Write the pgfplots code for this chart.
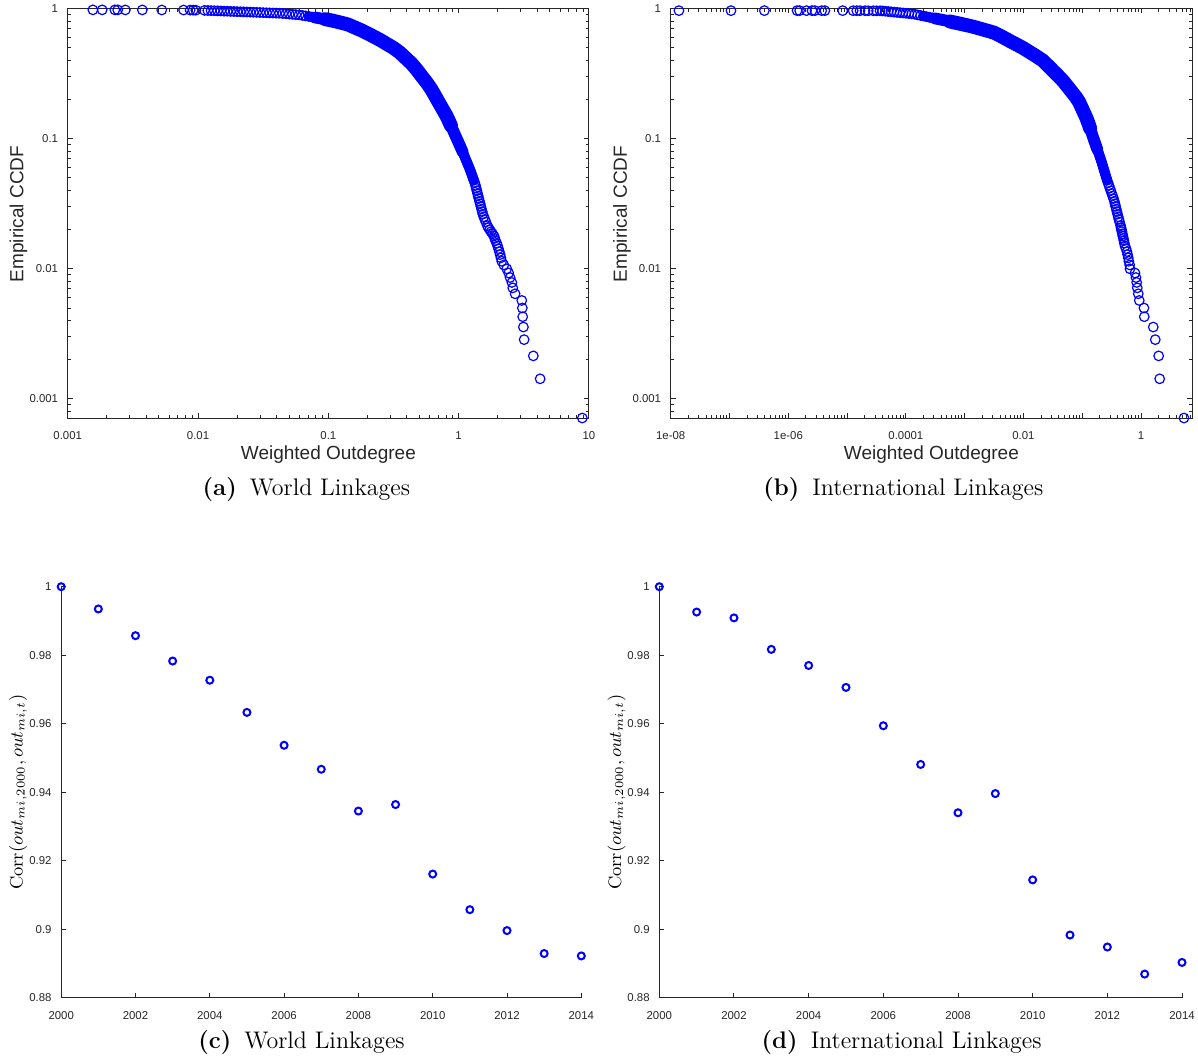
\documentclass[border=0pt]{standalone}
\usepackage{fontspec}
\setsansfont{Liberation Sans}
\usepackage{pgfplots}
\pgfplotsset{compat=1.18}

\definecolor{axgray}{rgb}{0.15,0.15,0.15}

\pgfplotsset{
  mat/.style={
    scale only axis, clip=false,
    axis line style={axgray, line width=0.5pt},
    tick style={axgray, line width=0.5pt},
    tick align=inside,
    major tick length=2.5pt, minor tick length=1.6pt,
    /pgf/number format/assume math mode=true,
    tick label style={font=\fontsize{5.7}{6.8}\selectfont\sffamily, text=axgray},
    xticklabel style={yshift=-3.4pt},
    yticklabel style={xshift=-1.3pt},
  },
  ccdf/.style={mat,
    width=260.65pt, height=204.75pt,
    ymin=7.143e-4, ymax=1,
    xtick pos=both, ytick pos=both,
    ytick={0.001,0.01,0.1,1}, yticklabels={0.001,0.01,0.1,1},
    minor ytick={0.0008,0.0009,0.002,0.003,0.004,0.005,0.006,0.007,0.008,0.009,
      0.02,0.03,0.04,0.05,0.06,0.07,0.08,0.09,0.2,0.3,0.4,0.5,0.6,0.7,0.8,0.9},
  },
  corr/.style={mat, axis lines*=left, xtick pos=left, ytick pos=left,
    height=205.5pt,
    xmin=2000, xmax=2014, ymin=0.88, ymax=1,
    xtick={2000,2002,2004,2006,2008,2010,2012,2014},
    xticklabels={2000,2002,2004,2006,2008,2010,2012,2014},
    ytick={0.88,0.9,0.92,0.94,0.96,0.98,1},
    yticklabels={0.88,0.9,0.92,0.94,0.96,0.98,1},
  },
  band/.style={draw=blue, line width=7pt, line cap=round, line join=round, mark=none},
  midband/.style={draw=blue, line width=5.9pt, line cap=round, line join=round, mark=none},
  thinband/.style={draw=blue, line width=4.8pt, line cap=round, line join=round, mark=none},
  dots/.style={only marks, mark=o, mark size=2.4pt, blue, mark options={line width=0.6pt}},
  cdots/.style={only marks, mark=o, mark size=1.75pt, blue, mark options={line width=1pt}},
}

\begin{document}
\begin{tikzpicture}
\useasboundingbox (0,0) rectangle (599pt,528pt);

% (a) world linkages, CCDF
\begin{loglogaxis}[ccdf, at={(33.85pt,319pt)}, anchor=south west,
  xmin=0.001, xmax=10,
  xtick={0.001,0.01,0.1,1,10}, xticklabels={0.001,0.01,0.1,1,10},
  minor xtick={0.002,0.003,0.004,0.005,0.006,0.007,0.008,0.009,
    0.02,0.03,0.04,0.05,0.06,0.07,0.08,0.09,0.2,0.3,0.4,0.5,0.6,0.7,0.8,0.9,
    2,3,4,5,6,7,8,9}]
\addplot[thinband] coordinates {(0.07079,0.869) (0.07943,0.852)};
\addplot[midband] coordinates {(0.07943,0.852) (0.08913,0.836) (0.1,0.820)};
\addplot[band] coordinates {
(0.09441,0.828) (0.1,0.820) (0.1122,0.799) (0.1259,0.777) (0.1413,0.754)
(0.1585,0.717) (0.1778,0.682) (0.1995,0.645) (0.2239,0.607) (0.2512,0.571) (0.2818,0.533)
(0.3162,0.498) (0.3548,0.4571) (0.3915,0.4169) (0.4320,0.3802) (0.4681,0.3467) (0.5025,0.3162)
(0.5394,0.2884) (0.5790,0.2630) (0.6166,0.2399) (0.6497,0.2188) (0.6847,0.1995) (0.7214,0.1820)
(0.7603,0.1660) (0.8013,0.1514) (0.8379,0.1380) (0.8730,0.1259)
};
\addplot[midband] coordinates {
(0.8379,0.1380) (0.8730,0.1259) (0.9095,0.1148) (0.9475,0.1047) (0.9872,0.0955) (1.0285,0.0871)
(1.0715,0.0794)
};
\addplot[thinband] coordinates {
(1.0285,0.0871) (1.0715,0.0794) (1.1135,0.0724) (1.1564,0.0661) (1.2010,0.0603) (1.2444,0.0550)
(1.2859,0.0501) (1.3075,0.0479)
};
\addplot[dots] coordinates {
(0.00156,0.976) (0.00184,0.976) (0.00230,0.976) (0.00242,0.976) (0.00277,0.975) (0.00374,0.975)
(0.00527,0.974) (0.00775,0.973) (0.0087,0.972) (0.00918,0.971) (0.00962,0.970)
(0.01122,0.967) (0.01189,0.965) (0.01259,0.963) (0.01334,0.961) (0.01413,0.959) (0.01496,0.957)
(0.01585,0.954) (0.01679,0.953) (0.01778,0.950) (0.01884,0.948) (0.01995,0.946) (0.02113,0.944)
(0.02239,0.942) (0.02371,0.940) (0.02512,0.938) (0.02661,0.936) (0.02818,0.934) (0.02985,0.932)
(0.03162,0.929) (0.0335,0.927) (0.03548,0.925) (0.03758,0.923) (0.03981,0.921) (0.04217,0.919)
(0.04467,0.915) (0.04732,0.911) (0.05012,0.906) (0.05309,0.902) (0.05623,0.897) (0.05957,0.893)
(0.0631,0.885) (0.06683,0.877) (0.07079,0.869) (0.07499,0.860) (0.07943,0.852) (0.08414,0.844)
(0.08913,0.836) (0.09441,0.828) (0.1,0.820) (0.1059,0.811) (0.1122,0.799) (0.1189,0.789)
(0.1259,0.777) (0.1334,0.767) (0.1413,0.754) (0.1496,0.735) (0.1585,0.717) (0.1679,0.700)
(0.1778,0.682) (0.1884,0.665) (0.1995,0.645) (0.2113,0.626) (0.2239,0.607) (0.2371,0.589)
(0.2512,0.571) (0.2661,0.552) (0.2818,0.533) (0.2985,0.516) (0.3162,0.498) (0.3350,0.482)
(0.3548,0.4571) (0.3727,0.4365) (0.3915,0.4169) (0.4112,0.3981) (0.4320,0.3802) (0.4518,0.3631)
(0.4681,0.3467) (0.4850,0.3311) (0.5025,0.3162) (0.5206,0.3020) (0.5394,0.2884) (0.5588,0.2754)
(0.5790,0.2630) (0.5999,0.2512) (0.6166,0.2399) (0.6329,0.2291) (0.6497,0.2188) (0.6669,0.2089)
(0.6847,0.1995) (0.7029,0.1905) (0.7214,0.1820) (0.7406,0.1738) (0.7603,0.1660) (0.7805,0.1585)
(0.8013,0.1514) (0.8210,0.1445) (0.8379,0.1380) (0.8553,0.1318) (0.8730,0.1259) (0.8911,0.1202)
(0.9095,0.1148) (0.9284,0.1096) (0.9475,0.1047) (0.9672,0.1000) (0.9872,0.0955) (1.0076,0.0912)
(1.0285,0.0871) (1.0498,0.0832) (1.0715,0.0794) (1.0926,0.0759) (1.1135,0.0724) (1.1348,0.0692)
(1.1564,0.0661) (1.1785,0.0631) (1.2010,0.0603) (1.2239,0.0575) (1.2444,0.0550) (1.2647,0.0525)
(1.2859,0.0501) (1.3075,0.0479) (1.3290,0.0457) (1.3468,0.0437) (1.3628,0.0417) (1.3785,0.0398)
(1.3948,0.0380) (1.4110,0.0363) (1.4273,0.0347) (1.4445,0.0331) (1.4619,0.0316) (1.4795,0.0302)
(1.4973,0.0288) (1.5153,0.0275) (1.5336,0.0263) (1.5592,0.0251) (1.5878,0.0240) (1.6166,0.0229)
(1.66,0.02143) (1.69,0.02071) (1.73,0.02) (1.77,0.01929) (1.82,0.01857) (1.87,0.01786)
(1.89,0.01714) (1.92,0.01643) (1.96,0.01571) (1.99,0.015) (2.02,0.01429) (2.05,0.01357)
(2.08,0.01286) (2.11,0.01214) (2.14,0.01143) (2.22,0.01071) (2.34,0.01) (2.42,0.009286)
(2.48,0.008571) (2.56,0.007857) (2.60,0.007143) (2.71,0.006429) (3.05,0.005714) (3.08,0.005)
(3.10,0.004286) (3.14,0.003571) (3.18,0.002857) (3.74,0.002143) (4.22,0.001429) (8.89,0.000714)
};
\end{loglogaxis}

% (b) international linkages, CCDF
\begin{loglogaxis}[ccdf, at={(335.35pt,319pt)}, anchor=south west,
  xmin=1e-8, xmax=7.35,
  xtick={1e-8,1e-7,1e-6,1e-5,1e-4,1e-3,0.01,0.1,1},
  xticklabels={1e-08,,1e-06,,0.0001,,0.01,,1},
  minor xtick={2e-8,3e-8,4e-8,5e-8,6e-8,7e-8,8e-8,9e-8,
    2e-7,3e-7,4e-7,5e-7,6e-7,7e-7,8e-7,9e-7,
    2e-6,3e-6,4e-6,5e-6,6e-6,7e-6,8e-6,9e-6,
    2e-5,3e-5,4e-5,5e-5,6e-5,7e-5,8e-5,9e-5,
    2e-4,3e-4,4e-4,5e-4,6e-4,7e-4,8e-4,9e-4,
    0.002,0.003,0.004,0.005,0.006,0.007,0.008,0.009,
    0.02,0.03,0.04,0.05,0.06,0.07,0.08,0.09,
    0.2,0.3,0.4,0.5,0.6,0.7,0.8,0.9,2,3,4,5,6,7}]
\addplot[thinband] coordinates {(1.995e-4,0.875) (2.512e-4,0.856) (3.162e-4,0.838)};
\addplot[midband] coordinates {(3.162e-4,0.838) (3.981e-4,0.821) (5.012e-4,0.804) (6.310e-4,0.785)};
\addplot[band] coordinates {
(5.623e-4,0.795) (6.310e-4,0.785) (7.943e-4,0.768) (1e-3,0.750)
(1.259e-3,0.733) (1.585e-3,0.713) (1.995e-3,0.692) (2.512e-3,0.672) (3.162e-3,0.652) (3.981e-3,0.619)
(5.012e-3,0.585) (6.310e-3,0.553) (7.943e-3,0.524) (0.01,0.495) (0.01128,0.4786) (0.01565,0.4365)
(0.02139,0.3981) (0.02624,0.3631) (0.03218,0.3311) (0.03947,0.3020) (0.04784,0.2754) (0.05626,0.2512)
(0.06616,0.2291) (0.07780,0.2089) (0.08872,0.1905) (0.09736,0.1738) (0.10686,0.1585) (0.11727,0.1445)
(0.12677,0.1318) (0.13576,0.1202)
};
\addplot[midband] coordinates {
(0.12677,0.1318) (0.13576,0.1202) (0.14536,0.1096) (0.15564,0.1000) (0.16703,0.0912) (0.17939,0.0832)
};
\addplot[thinband] coordinates {
(0.16703,0.0912) (0.17939,0.0832) (0.19266,0.0759) (0.20691,0.0692) (0.22016,0.0631)
(0.23407,0.0575) (0.24881,0.0525) (0.26478,0.0479)
};
\addplot[dots] coordinates {
(1.38e-8,0.963) (1.06e-7,0.963) (3.92e-7,0.963) (1.41e-6,0.963) (1.56e-6,0.963) (2.04e-6,0.963)
(2.53e-6,0.963) (2.84e-6,0.963) (3.70e-6,0.963) (4.19e-6,0.963) (8.41e-6,0.963) (1.27e-5,0.962)
(1.46e-5,0.962) (1.66e-5,0.962) (2.02e-5,0.962) (2.29e-5,0.961) (2.79e-5,0.961) (3.18e-5,0.960)
(3.63e-5,0.960)
(3.981e-5,0.958) (4.467e-5,0.953) (5.012e-5,0.948) (5.623e-5,0.943) (6.310e-5,0.938) (7.079e-5,0.933)
(7.943e-5,0.929) (8.913e-5,0.924) (1e-4,0.919) (1.122e-4,0.915) (1.259e-4,0.910) (1.413e-4,0.903)
(1.585e-4,0.893) (1.778e-4,0.884) (1.995e-4,0.875) (2.239e-4,0.865) (2.512e-4,0.856) (2.818e-4,0.847)
(3.162e-4,0.838) (3.548e-4,0.829) (3.981e-4,0.821) (4.467e-4,0.812) (5.012e-4,0.804) (5.623e-4,0.795)
(6.310e-4,0.785) (7.079e-4,0.777) (7.943e-4,0.768) (8.913e-4,0.759) (1e-3,0.750) (1.122e-3,0.742)
(1.259e-3,0.733) (1.413e-3,0.724) (1.585e-3,0.713) (1.778e-3,0.703) (1.995e-3,0.692) (2.239e-3,0.682)
(2.512e-3,0.672) (2.818e-3,0.661) (3.162e-3,0.652) (3.548e-3,0.636) (3.981e-3,0.619) (4.467e-3,0.602)
(5.012e-3,0.585) (5.623e-3,0.569) (6.310e-3,0.553) (7.079e-3,0.538) (7.943e-3,0.524) (8.913e-3,0.509)
(0.01,0.495) (0.01059,0.488)
(0.01128,0.4786) (0.01329,0.4571) (0.01565,0.4365) (0.01844,0.4169) (0.02139,0.3981) (0.02370,0.3802)
(0.02624,0.3631) (0.02906,0.3467) (0.03218,0.3311) (0.03565,0.3162) (0.03947,0.3020) (0.04371,0.2884)
(0.04784,0.2754) (0.05188,0.2630) (0.05626,0.2512) (0.06101,0.2399) (0.06616,0.2291) (0.07173,0.2188)
(0.07780,0.2089) (0.08437,0.1995) (0.08872,0.1905) (0.09294,0.1820) (0.09736,0.1738) (0.10200,0.1660)
(0.10686,0.1585) (0.11194,0.1514) (0.11727,0.1445) (0.12251,0.1380) (0.12677,0.1318) (0.13119,0.1259)
(0.13576,0.1202) (0.14047,0.1148) (0.14536,0.1096) (0.15040,0.1047) (0.15564,0.1000) (0.16118,0.0955)
(0.16703,0.0912) (0.17310,0.0871) (0.17939,0.0832) (0.18590,0.0794) (0.19266,0.0759) (0.19966,0.0724)
(0.20691,0.0692) (0.21352,0.0661) (0.22016,0.0631) (0.22701,0.0603) (0.23407,0.0575) (0.24135,0.0550)
(0.24881,0.0525) (0.25655,0.0501) (0.26478,0.0479) (0.27440,0.0457) (0.28445,0.0437) (0.29479,0.0417)
(0.30549,0.0398) (0.31659,0.0380) (0.32810,0.0363) (0.34000,0.0347) (0.35049,0.0331) (0.35958,0.0316)
(0.36887,0.0302) (0.37833,0.0288) (0.38815,0.0275) (0.39820,0.0263) (0.40842,0.0251) (0.41898,0.0240)
(0.43109,0.0229)
(0.450,0.02143) (0.456,0.02071) (0.464,0.02) (0.472,0.01929) (0.480,0.01857) (0.490,0.01786)
(0.500,0.01714) (0.510,0.01643) (0.520,0.01571) (0.532,0.015) (0.555,0.01429) (0.575,0.01357)
(0.590,0.01286) (0.606,0.01214) (0.620,0.01143) (0.640,0.01071) (0.647,0.01) (0.788,0.009286)
(0.819,0.008571) (0.842,0.007857) (0.862,0.007143) (0.896,0.006429) (0.932,0.005714) (1.120,0.005)
(1.134,0.004286) (1.613,0.003571) (1.744,0.002857) (1.992,0.002143) (2.072,0.001429) (5.365,0.000714)
};
\end{loglogaxis}

% (c) world linkages, correlation
\begin{axis}[corr, at={(30.6pt,29.15pt)}, anchor=south west, width=260.05pt]
\addplot[cdots] coordinates {
(2000,1.0) (2001,0.9935) (2002,0.9857) (2003,0.9783) (2004,0.9727) (2005,0.9633) (2006,0.9537)
(2007,0.9467) (2008,0.9345) (2009,0.9364) (2010,0.9161) (2011,0.9057) (2012,0.8996) (2013,0.8929)
(2014,0.8922)
};
\end{axis}

% (d) international linkages, correlation
\begin{axis}[corr, at={(329.65pt,29.15pt)}, anchor=south west, width=261.35pt]
\addplot[cdots] coordinates {
(2000,1.0) (2001,0.9926) (2002,0.9909) (2003,0.9817) (2004,0.9770) (2005,0.9706) (2006,0.9594)
(2007,0.9481) (2008,0.9340) (2009,0.9396) (2010,0.9144) (2011,0.8983) (2012,0.8948) (2013,0.8869)
(2014,0.8903)
};
\end{axis}

% axis labels
\begin{scope}[every node/.style={font=\fontsize{9.5}{11}\selectfont\sffamily, text=axgray, inner sep=0pt}]
\node[rotate=90, anchor=base] at (11.65pt,421pt) {Empirical CCDF};
\node[rotate=90, anchor=base] at (313.45pt,421pt) {Empirical CCDF};
\node[anchor=base] at (164.2pt,298.2pt) {Weighted Outdegree};
\node[anchor=base] at (465.7pt,298.2pt) {Weighted Outdegree};
\end{scope}
\begin{scope}[every node/.style={font=\fontsize{9}{11}\selectfont, inner sep=0pt}]
\node[rotate=90, anchor=base] at (11.3pt,131.9pt) {$\mathrm{Corr}(out_{mi,2000}, out_{mi,t})$};
\node[rotate=90, anchor=base] at (310.55pt,131.9pt) {$\mathrm{Corr}(out_{mi,2000}, out_{mi,t})$};
\end{scope}

% sub-captions
\begin{scope}[every node/.style={font=\fontsize{12}{14}\selectfont, inner sep=0pt, anchor=base}]
\node at (153.2pt,280pt) {\textbf{(a)}\hspace{6.5pt}World Linkages};
\node at (451.65pt,280pt) {\textbf{(b)}\hspace{6.5pt}International Linkages};
\node at (150.75pt,4pt) {\textbf{(c)}\hspace{6.5pt}World Linkages};
\node at (450.85pt,4pt) {\textbf{(d)}\hspace{6.5pt}International Linkages};
\end{scope}
\end{tikzpicture}
\end{document}
